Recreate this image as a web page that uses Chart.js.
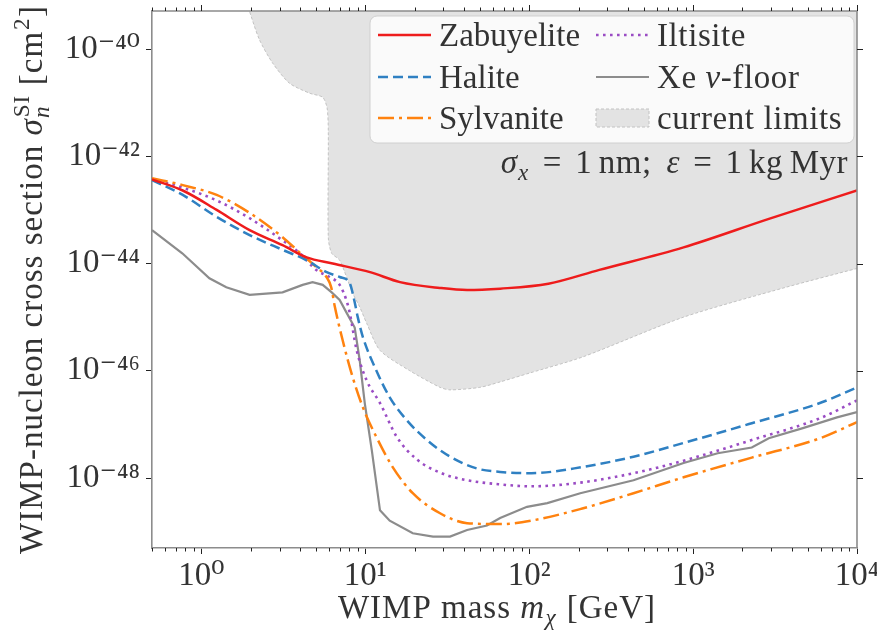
<!DOCTYPE html>
<html lang="en">
<head>
<meta charset="UTF-8">
<title>WIMP-nucleon cross section reach</title>
<script src="https://cdn.jsdelivr.net/npm/chart.js@4.4.1/dist/chart.umd.min.js"></script>
<style>
  body { margin: 0; background: #fff; }
  canvas { display: block; }
</style>
</head>
<body>
<canvas id="limits" width="877" height="635"></canvas>
<script>
// values: WIMP mass [GeV] vs SI cross section [cm^2]
const zabMass  = [0.5, 0.77, 1.24, 1.97, 3.13, 4.39, 6.33, 10.7, 16.3, 28.5, 41.8, 66.5, 131, 268, 875, 2900, 10000];
const zabSigma = [3.7e-43, 2.3e-43, 1.0e-43, 4.2e-44, 2.2e-44, 1.3e-44, 1.0e-44, 6.9e-45, 4.5e-45, 3.5e-45, 3.2e-45, 3.4e-45, 4.2e-45, 7.6e-45, 2.0e-44, 6.8e-44, 2.3e-43];

const halMass  = [0.5, 0.77, 1.24, 1.97, 3.13, 4.39, 5.82, 6.98, 8.04, 8.62, 9.0, 9.66, 11.7, 14.1, 17.9, 23.8, 32.9, 48.1, 66.5, 103, 211, 433, 875, 2280, 5940, 10000];
const halSigma = [3.6e-43, 1.9e-43, 7.4e-44, 3.4e-44, 1.8e-44, 1.15e-44, 6.9e-45, 5.6e-45, 4.3e-45, 1.9e-45, 1.0e-45, 4.3e-46, 1.0e-46, 3.2e-47, 1.2e-47, 5.1e-48, 2.5e-48, 1.5e-48, 1.3e-48, 1.23e-48, 1.6e-48, 2.5e-48, 4.5e-48, 1.05e-47, 2.5e-47, 4.9e-47];

const sylMass  = [0.5, 0.77, 1.24, 1.97, 3.13, 3.98, 5.05, 5.8, 6.2, 6.5, 7.28, 8.38, 9.66, 11.7, 14.7, 19.5, 28.6, 41.8, 66.5, 103, 211, 433, 875, 2280, 5940, 10000];
const sylSigma = [3.9e-43, 2.9e-43, 1.9e-43, 8.8e-44, 3.1e-44, 1.6e-44, 8.5e-45, 5.6e-45, 3.6e-45, 1.65e-45, 3.7e-46, 7.6e-47, 2.1e-47, 5.8e-48, 1.6e-48, 5.2e-49, 2.2e-49, 1.44e-49, 1.38e-49, 1.6e-49, 2.7e-49, 5.2e-49, 1.03e-48, 2.4e-48, 5.5e-48, 1.1e-47];

const iltMass  = [0.5, 0.77, 1.24, 1.97, 3.13, 3.98, 5.05, 6.06, 6.98, 7.7, 8.04, 8.87, 10.2, 12.3, 15.6, 20.7, 29.8, 41.8, 66.5, 103, 211, 433, 875, 2280, 5940, 10000];
const iltSigma = [3.7e-43, 2.6e-43, 1.5e-43, 7.0e-44, 2.7e-44, 1.56e-44, 7.5e-45, 5.6e-45, 4.0e-45, 2.0e-45, 1.2e-45, 2.4e-46, 6.6e-47, 2.5e-47, 5.8e-48, 2.2e-48, 1.2e-48, 9.1e-49, 7.6e-49, 7.0e-49, 8.3e-49, 1.23e-48, 2.1e-48, 5.1e-48, 1.3e-47, 2.8e-47];

const xeMass  = [0.5, 0.765, 1.12, 1.42, 1.97, 3.13, 4.15, 4.77, 5.5, 6.24, 6.98, 7.7, 8.62, 9.25, 9.93, 10.96, 12.3, 14.1, 19.5, 25.9, 32.9, 41.8, 55.3, 66.5, 97, 129, 205, 433, 875, 1413, 2280, 2896, 4677, 7550, 10000];
const xeSigma = [4.2e-44, 1.55e-44, 5.3e-45, 3.6e-45, 2.6e-45, 2.9e-45, 4.0e-45, 4.5e-45, 4.0e-45, 2.9e-45, 2.1e-45, 1.2e-45, 6.4e-46, 1.57e-46, 2.5e-47, 3.3e-48, 2.5e-49, 1.6e-49, 9.3e-50, 8.1e-50, 8.1e-50, 1.07e-49, 1.3e-49, 1.8e-49, 2.9e-49, 3.4e-49, 5.2e-49, 9.1e-49, 1.9e-48, 2.9e-48, 3.7e-48, 5.5e-48, 8.5e-48, 1.35e-47, 1.7e-47];

// lower edge of the excluded region (current limits)
const limMass  = [1.93, 2.26, 2.72, 3.45, 4.58, 5.5, 5.85, 5.95, 5.95, 6.24, 6.98, 8.38, 9.25, 10.2, 12.3, 18.7, 28.6, 32.9, 50, 66.5, 101, 211, 875, 3680, 10000];
const limSigma = [6e-40, 1.5e-40, 5.5e-41, 2.3e-41, 1.5e-41, 1.26e-41, 8e-42, 3e-42, 3e-44, 1.55e-44, 1.15e-44, 2.8e-45, 1.55e-45, 7.7e-46, 2.4e-46, 1.0e-46, 4.9e-47, 4.4e-47, 4.9e-47, 6.2e-47, 9.1e-47, 1.8e-46, 1.0e-45, 3.6e-45, 8.1e-45];

const massTicks = [1, 10, 100, 1000, 10000];
const massMinorTicks = [0.5, 0.6, 0.7, 0.8, 0.9, 2, 3, 4, 5, 6, 7, 8, 9, 20, 30, 40, 50, 60, 70, 80, 90,
  200, 300, 400, 500, 600, 700, 800, 900, 2000, 3000, 4000, 5000, 6000, 7000, 8000, 9000];
const sigmaTicks = [1e-48, 1e-46, 1e-44, 1e-42, 1e-40];

const FONT = '"Liberation Serif", "DejaVu Serif", serif';
const FS = 33;
const INK = '#333';

const toPoints = (xs, ys) => xs.map((x, i) => ({ x: x, y: ys[i] }));

const SUP = { '0': '⁰', '1': '¹', '2': '²', '3': '³', '4': '⁴', '5': '⁵', '6': '⁶', '7': '⁷', '8': '⁸', '9': '⁹', '-': '⁻' };
function powLabel(v) {
  const e = String(Math.round(Math.log10(v)));
  return '10' + e.split('').map(c => SUP[c]).join('');
}

// small mathtext-like writer: plain / italic runs, sub- and superscripts
function setFont(ctx, size, it) {
  ctx.font = (it ? 'italic ' : '') + size + 'px ' + FONT;
}
function partWidth(ctx, p, fs) {
  if (p.sp) return p.sp * fs;
  if (p.sub !== undefined || p.sup !== undefined) {
    let w = 0;
    if (p.sup) { setFont(ctx, fs * 0.7, p.supIt); w = Math.max(w, ctx.measureText(p.sup).width); }
    if (p.sub) { setFont(ctx, fs * 0.7, p.subIt); w = Math.max(w, ctx.measureText(p.sub).width); }
    return w + fs * 0.04;
  }
  setFont(ctx, fs, p.it);
  return ctx.measureText(p.t).width;
}
function drawRich(ctx, parts, x, y, fs, align, spacing) {
  ctx.letterSpacing = (spacing || 0) + 'px';
  const total = parts.reduce((s, p) => s + partWidth(ctx, p, fs), 0);
  let cx = align === 'center' ? x - total / 2 : align === 'right' ? x - total : x;
  ctx.textAlign = 'left';
  ctx.textBaseline = 'alphabetic';
  parts.forEach(p => {
    const w = partWidth(ctx, p, fs);
    if (p.sup) { setFont(ctx, fs * 0.7, p.supIt); ctx.fillText(p.sup, cx + fs * 0.03, y - fs * 0.4); }
    if (p.sub) { setFont(ctx, fs * 0.7, p.subIt); ctx.fillText(p.sub, cx + fs * 0.01, y + fs * 0.22); }
    if (p.t) { setFont(ctx, fs, p.it); ctx.fillText(p.t, cx, y); }
    cx += w;
  });
  ctx.letterSpacing = '0px';
}

const xTitle = [{ t: 'WIMP mass ' }, { t: 'm', it: true }, { sub: 'χ', subIt: true }, { t: ' [GeV]' }];
const yTitle = [{ t: 'WIMP-nucleon cross section ' }, { t: 'σ', it: true }, { sup: 'SI', sub: 'n', subIt: true },
  { t: ' [cm' }, { sup: '2' }, { t: ']' }];
const note = [{ t: 'σ', it: true }, { sub: 'x', subIt: true }, { sp: 0.4 }, { t: '=' }, { sp: 0.4 }, { t: '1' },
  { sp: 0.2 }, { t: 'nm;' }, { sp: 0.45 }, { t: 'ε', it: true }, { sp: 0.4 }, { t: '=' }, { sp: 0.4 },
  { t: '1' }, { sp: 0.2 }, { t: 'kg' }, { sp: 0.2 }, { t: 'Myr' }];

const textLayer = {
  id: 'textLayer',
  afterDatasetsDraw(chart) {
    const ctx = chart.ctx;
    const a = chart.chartArea;
    const ds = chart.data.datasets;
    ctx.save();
    ctx.fillStyle = INK;
    drawRich(ctx, note, 848, 173, FS, 'right', 0.5);

    // legend, two columns
    ctx.beginPath();
    ctx.roundRect(370, 16, 484, 127, 7);
    ctx.fillStyle = 'rgba(255,255,255,0.8)';
    ctx.fill();
    ctx.strokeStyle = 'rgba(204,204,204,0.9)';
    ctx.lineWidth = 1;
    ctx.stroke();
    const cols = [378, 596], rows = [35, 77, 118];
    ds.forEach((d, i) => {
      const lx = cols[Math.floor(i / 3)], ly = rows[i % 3];
      if (d.fill) {
        ctx.fillStyle = d.backgroundColor;
        ctx.fillRect(lx, ly - 9, 53, 18);
        ctx.setLineDash(d.borderDash || []);
        ctx.strokeStyle = d.borderColor;
        ctx.lineWidth = 1;
        ctx.strokeRect(lx, ly - 9, 53, 18);
      } else {
        ctx.setLineDash(d.borderDash || []);
        ctx.strokeStyle = d.borderColor;
        ctx.lineWidth = d.borderWidth;
        ctx.beginPath();
        ctx.moveTo(lx, ly);
        ctx.lineTo(lx + 53, ly);
        ctx.stroke();
      }
      ctx.setLineDash([]);
      ctx.fillStyle = INK;
      const parts = d.label.split(/(ν)/).filter(s => s).map(s => ({ t: s, it: s === 'ν' }));
      drawRich(ctx, parts, lx + 61, ly + 11, FS, 'left', i >= 3 ? 0.6 : 0);
    });

    // axis titles
    drawRich(ctx, xTitle, 497, 618, FS, 'center', 1);
    ctx.translate(42, (a.top + a.bottom) / 2);
    ctx.rotate(-Math.PI / 2);
    drawRich(ctx, yTitle, 0, 0, FS, 'center', 1);
    ctx.restore();
  }
};

// top/right spines and the minor / mirrored tick marks
const frameTicks = {
  id: 'frameTicks',
  afterDraw(chart) {
    const ctx = chart.ctx;
    const a = chart.chartArea;
    const x = chart.scales.x, y = chart.scales.y;
    ctx.save();
    ctx.strokeStyle = '#8c8c8c';
    ctx.lineWidth = 1.6;
    ctx.beginPath();
    ctx.moveTo(a.left, a.top);
    ctx.lineTo(a.right, a.top);
    ctx.lineTo(a.right, a.bottom);
    ctx.stroke();
    ctx.strokeStyle = '#222';
    ctx.lineWidth = 1;
    ctx.beginPath();
    massMinorTicks.forEach(v => {
      const px = Math.round(x.getPixelForValue(v)) + 0.5;
      ctx.moveTo(px, a.bottom); ctx.lineTo(px, a.bottom + 3.5);
      ctx.moveTo(px, a.top); ctx.lineTo(px, a.top - 3.5);
    });
    massTicks.forEach(v => {
      const px = Math.round(x.getPixelForValue(v)) + 0.5;
      ctx.moveTo(px, a.top); ctx.lineTo(px, a.top - 6);
    });
    sigmaTicks.forEach(v => {
      const py = Math.round(y.getPixelForValue(v)) + 0.5;
      ctx.moveTo(a.right, py); ctx.lineTo(a.right + 6, py);
    });
    ctx.stroke();
    ctx.restore();
  }
};

const lineSet = (label, xs, ys, color, dash, width, mode) => ({
  label: label,
  data: toPoints(xs, ys),
  borderColor: color,
  borderWidth: width,
  borderDash: dash,
  cubicInterpolationMode: mode,
  tension: 0,
  pointRadius: 0,
  fill: false
});

const tickFont = { family: FONT, size: FS };

new Chart(document.getElementById('limits'), {
  type: 'line',
  data: {
    datasets: [
      lineSet('Zabuyelite', zabMass, zabSigma, '#ee1c1c', [], 2.5, 'monotone'),
      lineSet('Halite', halMass, halSigma, '#2f80c2', [10, 5], 2.5, 'monotone'),
      lineSet('Sylvanite', sylMass, sylSigma, '#ff820f', [16, 5, 3, 5], 2.5, 'monotone'),
      lineSet('Iltisite', iltMass, iltSigma, '#9a4cc4', [2.6, 4.4], 2.6, 'monotone'),
      lineSet('Xe ν-floor', xeMass, xeSigma, '#8c8c8c', [], 2.2, 'default'),
      {
        label: 'current limits',
        data: toPoints(limMass, limSigma),
        borderColor: '#c2c2c2',
        borderWidth: 1,
        borderDash: [3, 2],
        backgroundColor: '#e3e3e3',
        fill: 'end',
        tension: 0.25,
        pointRadius: 0
      }
    ]
  },
  options: {
    responsive: false,
    animation: false,
    layout: { padding: { top: 11, right: 20, left: 0, bottom: 0 } },
    plugins: { legend: { display: false }, tooltip: { enabled: false } },
    scales: {
      x: {
        type: 'logarithmic',
        position: 'bottom',
        min: 0.5,
        max: 1e4,
        afterBuildTicks: s => { s.ticks = massTicks.map(v => ({ value: v })); },
        afterFit: s => { s.height = 87; s.paddingLeft = 0; s.paddingRight = 0; },
        grid: { drawOnChartArea: false, drawTicks: true, tickLength: 6, tickColor: '#222', tickWidth: 1 },
        border: { display: true, color: '#8c8c8c', width: 1.6 },
        ticks: { color: INK, font: tickFont, padding: 3, maxRotation: 0, autoSkip: false, callback: v => powLabel(v) }
      },
      y: {
        type: 'logarithmic',
        position: 'left',
        min: 4.95e-50,
        max: 5.12e-40,
        afterBuildTicks: s => { s.ticks = sigmaTicks.map(v => ({ value: v })); },
        afterFit: s => { s.width = 152; s.paddingTop = 0; s.paddingBottom = 0; },
        grid: { drawOnChartArea: false, drawTicks: true, tickLength: 6, tickColor: '#222', tickWidth: 1 },
        border: { display: true, color: '#8c8c8c', width: 1.6 },
        ticks: { color: INK, font: tickFont, padding: 6, autoSkip: false, callback: v => powLabel(v) }
      }
    }
  },
  plugins: [textLayer, frameTicks]
});
</script>
</body>
</html>
